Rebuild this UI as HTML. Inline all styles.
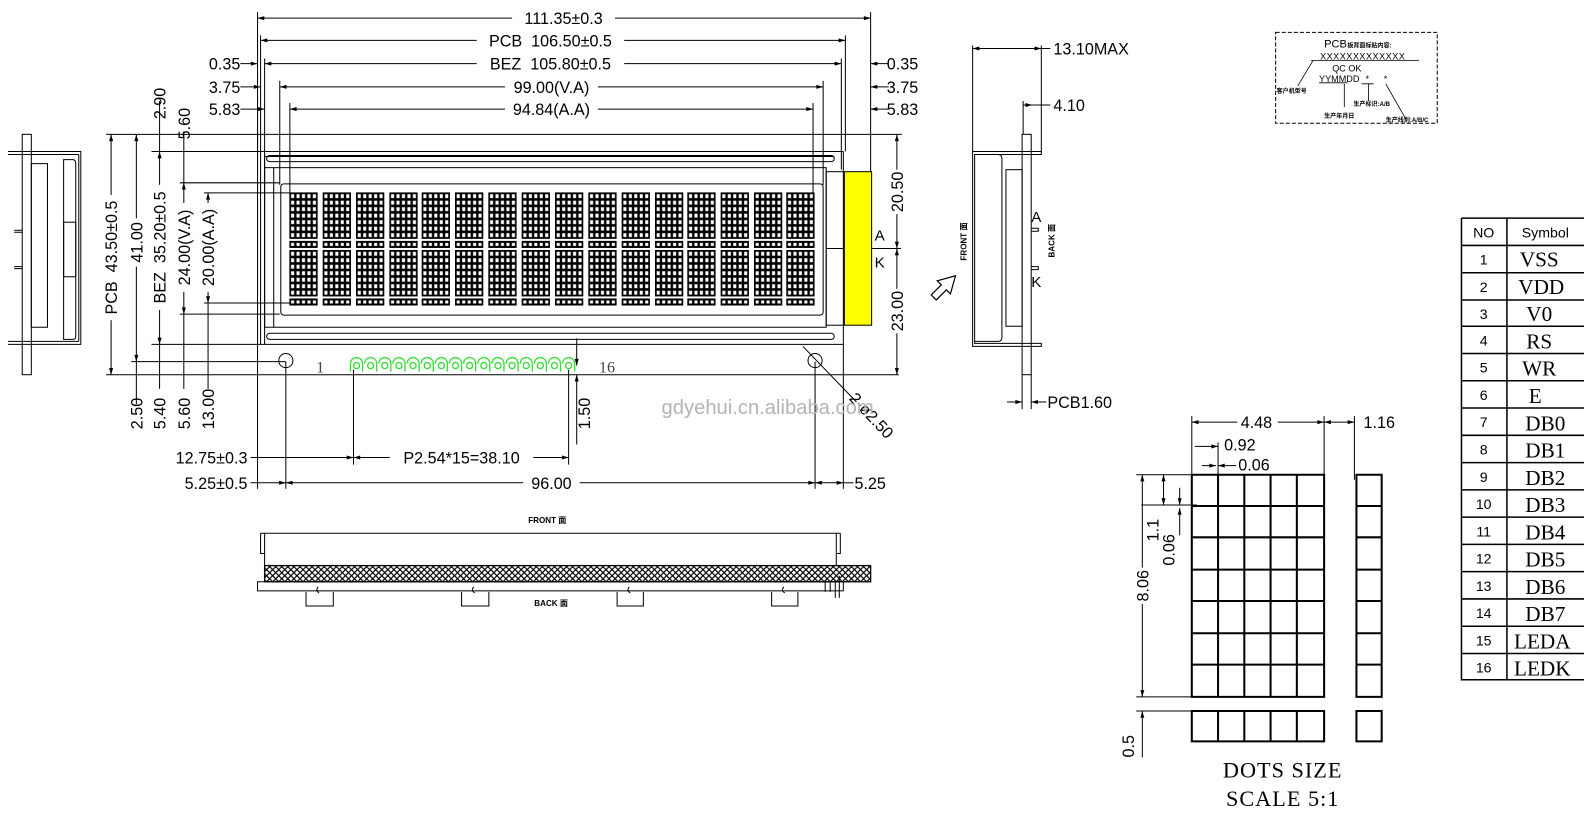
<!DOCTYPE html>
<html><head><meta charset="utf-8"><style>
html,body{margin:0;padding:0;background:#fff;}
svg{display:block;}
text{font-family:"Liberation Sans","Noto Sans CJK SC",sans-serif;fill:#000;}
.s{font-family:"Liberation Serif","Noto Serif CJK SC",serif;}
</style></head><body>
<svg width="1584" height="813" viewBox="0 0 1584 813" xmlns="http://www.w3.org/2000/svg">
<defs>
<marker id="a" viewBox="0 0 10 6" refX="10" refY="3" markerWidth="8" markerHeight="4" orient="auto-start-reverse"><path d="M0,0L10,3L0,6z" fill="#000"/></marker>
<pattern id="dot" viewBox="0 0 10 10" width=".2" height=".142857" preserveAspectRatio="none"><rect width="10" height="10" fill="#000"/><rect x="2.2" y="2" width="5.6" height="6" fill="#fff"/></pattern>
<pattern id="dot1" viewBox="0 0 10 10" width=".2" height="1" preserveAspectRatio="none"><rect width="10" height="10" fill="#000"/><rect x="2.2" y="2.5" width="5.6" height="5" fill="#fff"/></pattern>
<pattern id="hatch" width="6" height="6" patternUnits="userSpaceOnUse"><rect width="6" height="6" fill="#fff"/><path d="M0,0L6,6M6,0L0,6" stroke="#000" stroke-width="1.2"/></pattern>
<symbol id="ch" viewBox="0 0 27 54" width="27" height="54" overflow="visible">
<rect x="0" y="0" width="27" height="45" fill="url(#dot)"/>
<rect x="0" y="48" width="27" height="6" fill="url(#dot1)"/>
</symbol>
</defs>
<g transform="scale(1.01)" stroke="#000" stroke-width="1" fill="none">

<g stroke-width="1">
<line x1="255" y1="12" x2="255" y2="150"/><line x1="862" y1="12" x2="862" y2="170"/>
<line x1="258" y1="35" x2="258" y2="150"/><line x1="837" y1="35" x2="837" y2="150"/>
<line x1="262" y1="58" x2="262" y2="168"/><line x1="833" y1="58" x2="833" y2="168"/>
<line x1="277" y1="80" x2="277" y2="183"/><line x1="815" y1="80" x2="815" y2="183"/>
<line x1="287" y1="102" x2="287" y2="193"/><line x1="805" y1="102" x2="805" y2="193"/>
<line x1="255" y1="18" x2="862" y2="18" marker-start="url(#a)" marker-end="url(#a)"/>
<line x1="258" y1="40" x2="837" y2="40" marker-start="url(#a)" marker-end="url(#a)"/>
<line x1="262" y1="63" x2="833" y2="63" marker-start="url(#a)" marker-end="url(#a)"/>
<line x1="277" y1="86" x2="815" y2="86" marker-start="url(#a)" marker-end="url(#a)"/>
<line x1="287" y1="108" x2="805" y2="108" marker-start="url(#a)" marker-end="url(#a)"/>
<line x1="238" y1="63" x2="255" y2="63" marker-end="url(#a)"/><line x1="880" y1="63" x2="862" y2="63" marker-end="url(#a)"/>
<line x1="238" y1="86" x2="258" y2="86" marker-end="url(#a)"/><line x1="880" y1="86" x2="862" y2="86" marker-end="url(#a)"/>
<line x1="238" y1="108" x2="262" y2="108" marker-end="url(#a)"/><line x1="880" y1="108" x2="862" y2="108" marker-end="url(#a)"/>
</g>
<g stroke="none" font-size="16">
<rect x="507" y="9" width="102" height="18" fill="#fff"/><text x="558" y="24" text-anchor="middle">111.35±0.3</text>
<rect x="472" y="31" width="146" height="18" fill="#fff"/><text x="545" y="46" text-anchor="middle" xml:space="preserve">PCB  106.50±0.5</text>
<rect x="472" y="54" width="146" height="18" fill="#fff"/><text x="545" y="69" text-anchor="middle" xml:space="preserve">BEZ  105.80±0.5</text>
<rect x="500" y="77" width="92" height="18" fill="#fff"/><text x="546" y="92" text-anchor="middle">99.00(V.A)</text>
<rect x="500" y="99" width="92" height="18" fill="#fff"/><text x="546" y="114" text-anchor="middle">94.84(A.A)</text>
<text x="238" y="69" text-anchor="end">0.35</text><text x="238" y="92" text-anchor="end">3.75</text><text x="238" y="114" text-anchor="end">5.83</text>
<text x="878" y="69">0.35</text><text x="878" y="92">3.75</text><text x="878" y="114">5.83</text>
</g>

<g>
<line x1="105" y1="133" x2="255" y2="133"/>
<line x1="150" y1="150" x2="258" y2="150"/>
<line x1="178" y1="181" x2="277" y2="181"/>
<line x1="202" y1="191" x2="287" y2="191"/>
<line x1="202" y1="300" x2="287" y2="300"/>
<line x1="178" y1="311" x2="277" y2="311"/>
<line x1="150" y1="341" x2="258" y2="341"/>
<line x1="130" y1="358" x2="283" y2="358"/>
<line x1="105" y1="371" x2="890" y2="371"/>
<line x1="110" y1="133" x2="110" y2="371" marker-start="url(#a)" marker-end="url(#a)"/>
<line x1="135" y1="133" x2="135" y2="358" marker-start="url(#a)" marker-end="url(#a)"/>
<line x1="135" y1="358" x2="135" y2="400"/>
<line x1="158" y1="150" x2="158" y2="341" marker-start="url(#a)" marker-end="url(#a)"/>
<line x1="158" y1="100" x2="158" y2="150"/><line x1="158" y1="341" x2="158" y2="385"/>
<line x1="182" y1="181" x2="182" y2="311" marker-start="url(#a)" marker-end="url(#a)"/>
<line x1="182" y1="130" x2="182" y2="181"/><line x1="182" y1="311" x2="182" y2="385"/>
<line x1="206" y1="191" x2="206" y2="300" marker-start="url(#a)" marker-end="url(#a)"/>
<line x1="206" y1="300" x2="206" y2="385"/>
</g>
<g stroke="none" font-size="16">
<g transform="translate(116,255) rotate(-90)"><rect x="-62" y="-14" width="124" height="18" fill="#fff"/><text text-anchor="middle" xml:space="preserve">PCB  43.50±0.5</text></g>
<g transform="translate(141,240) rotate(-90)"><rect x="-24" y="-14" width="48" height="18" fill="#fff"/><text text-anchor="middle">41.00</text></g>
<g transform="translate(164,245) rotate(-90)"><rect x="-62" y="-14" width="124" height="18" fill="#fff"/><text text-anchor="middle" xml:space="preserve">BEZ  35.20±0.5</text></g>
<g transform="translate(188,245) rotate(-90)"><rect x="-44" y="-14" width="88" height="18" fill="#fff"/><text text-anchor="middle">24.00(V.A)</text></g>
<g transform="translate(212,245) rotate(-90)"><rect x="-44" y="-14" width="88" height="18" fill="#fff"/><text text-anchor="middle">20.00(A.A)</text></g>
<text transform="translate(164,118) rotate(-90)">2.90</text>
<text transform="translate(188,138) rotate(-90)">5.60</text>
<text transform="translate(141,425) rotate(-90)">2.50</text>
<text transform="translate(164,425) rotate(-90)">5.40</text>
<text transform="translate(188,425) rotate(-90)">5.60</text>
<text transform="translate(212,425) rotate(-90)">13.00</text>
</g>

<rect x="22" y="133" width="9" height="238"/>
<path d="M8,150H80V341H8M8,153H78M8,338H78"/>
<rect x="31" y="162" width="16" height="162"/>
<path d="M78,153V338M63,158H72Q75,158 75,162V333Q75,336 72,336H63z"/>
<rect x="63" y="220" width="12" height="54"/>
<path d="M14,228H22M14,230H22M14,264H22M14,266H22"/>

<path d="M255,133H862M255,133V371"/>
<path d="M258,150V341M835,150V341M258,150H835M258,341H835"/>
<path d="M262,155H826M262,341V153"/>
<rect x="264" y="154" width="562" height="6" rx="3"/>
<rect x="264" y="330" width="562" height="6" rx="3"/>
<rect x="262" y="166" width="556" height="158"/>
<line x1="271" y1="166" x2="271" y2="324"/>
<rect x="278" y="182" width="537" height="130" rx="3"/>
<rect x="818" y="170" width="18" height="152"/>
<rect x="836" y="170" width="27" height="152" fill="#ffff00"/>
<line x1="818" y1="246" x2="835" y2="246"/>
<line x1="863" y1="246" x2="892" y2="246"/>
<g id="row">
<use href="#ch" x="287" y="191"/><use href="#ch" x="320" y="191"/><use href="#ch" x="353" y="191"/><use href="#ch" x="386" y="191"/>
<use href="#ch" x="418" y="191"/><use href="#ch" x="451" y="191"/><use href="#ch" x="484" y="191"/><use href="#ch" x="517" y="191"/>
<use href="#ch" x="550" y="191"/><use href="#ch" x="583" y="191"/><use href="#ch" x="616" y="191"/><use href="#ch" x="649" y="191"/>
<use href="#ch" x="681" y="191"/><use href="#ch" x="714" y="191"/><use href="#ch" x="747" y="191"/><use href="#ch" x="779" y="191"/>
</g>
<use href="#row" y="57"/>

<circle cx="283" cy="357" r="7"/><circle cx="807" cy="357" r="7"/>
<g stroke="#33dd33" stroke-width="1.3">
<path d="M347,368V360A6,6 0 0 1 359,360V368M361,360A6,6 0 0 1 373,360V368M375,360A6,6 0 0 1 387,360V368M389,360A6,6 0 0 1 401,360V368M403,360A6,6 0 0 1 415,360V368M417,360A6,6 0 0 1 429,360V368M431,360A6,6 0 0 1 443,360V368M445,360A6,6 0 0 1 457,360V368M459,360A6,6 0 0 1 471,360V368M473,360A6,6 0 0 1 485,360V368M487,360A6,6 0 0 1 499,360V368M501,360A6,6 0 0 1 513,360V368M515,360A6,6 0 0 1 527,360V368M529,360A6,6 0 0 1 541,360V368M543,360A6,6 0 0 1 555,360V368M557,360A6,6 0 0 1 569,360V368"/>
<circle cx="353" cy="362" r="3"/><circle cx="367" cy="362" r="3"/><circle cx="381" cy="362" r="3"/><circle cx="395" cy="362" r="3"/><circle cx="409" cy="362" r="3"/><circle cx="423" cy="362" r="3"/><circle cx="437" cy="362" r="3"/><circle cx="451" cy="362" r="3"/><circle cx="465" cy="362" r="3"/><circle cx="479" cy="362" r="3"/><circle cx="493" cy="362" r="3"/><circle cx="507" cy="362" r="3"/><circle cx="521" cy="362" r="3"/><circle cx="535" cy="362" r="3"/><circle cx="549" cy="362" r="3"/><circle cx="563" cy="362" r="3"/>
</g>
<g stroke="none">
<text class="s" x="313" y="369" font-size="16" style="fill:#444">1</text>
<text class="s" x="593" y="369" font-size="16" style="fill:#444">16</text>
<text x="866" y="238" font-size="15">A</text>
<text x="866" y="265" font-size="15">K</text>
</g>

<line x1="862" y1="133" x2="893" y2="133"/>
<line x1="888" y1="133" x2="888" y2="246" marker-start="url(#a)" marker-end="url(#a)"/>
<line x1="888" y1="246" x2="888" y2="371" marker-start="url(#a)" marker-end="url(#a)"/>
<g stroke="none" font-size="16">
<g transform="translate(894,190) rotate(-90)"><rect x="-22" y="-14" width="44" height="18" fill="#fff"/><text text-anchor="middle">20.50</text></g>
<g transform="translate(894,308) rotate(-90)"><rect x="-22" y="-14" width="44" height="18" fill="#fff"/><text text-anchor="middle">23.00</text></g>
</g>

<line x1="283" y1="358" x2="283" y2="484"/>
<line x1="350" y1="366" x2="350" y2="460"/>
<line x1="563" y1="366" x2="563" y2="460"/>
<line x1="807" y1="358" x2="807" y2="484"/>
<line x1="835" y1="341" x2="835" y2="484"/>
<line x1="255" y1="371" x2="255" y2="484"/>
<line x1="571" y1="371" x2="571" y2="440" marker-start="url(#a)"/>
<line x1="571" y1="335" x2="571" y2="362" marker-end="url(#a)"/>
<line x1="248" y1="453" x2="350" y2="453" marker-end="url(#a)"/>
<line x1="350" y1="453" x2="563" y2="453" marker-start="url(#a)" marker-end="url(#a)"/>
<line x1="248" y1="478" x2="283" y2="478" marker-end="url(#a)"/>
<line x1="283" y1="478" x2="807" y2="478" marker-start="url(#a)" marker-end="url(#a)"/>
<line x1="807" y1="478" x2="835" y2="478" marker-start="url(#a)" marker-end="url(#a)"/>
<line x1="835" y1="478" x2="845" y2="478"/>
<line x1="795" y1="343" x2="848" y2="398"/>
<g stroke="none" font-size="16">
<text x="245" y="459" text-anchor="end">12.75±0.3</text>
<rect x="386" y="444" width="142" height="18" fill="#fff"/><text x="457" y="459" text-anchor="middle">P2.54*15=38.10</text>
<text x="245" y="484" text-anchor="end">5.25±0.5</text>
<rect x="518" y="469" width="56" height="18" fill="#fff"/><text x="546" y="484" text-anchor="middle">96.00</text>
<text x="846" y="484">5.25</text>
<text transform="translate(584,425) rotate(-90)">1.50</text>
<text transform="translate(840,395) rotate(47)">2-ø2.50</text>
<text x="655" y="410" font-size="20" style="fill:#b4b4b4">gdyehui.cn.alibaba.com</text>
</g>

<path d="M258,528H832M262,528V560M828,528V560"/>
<path d="M258,528V548H262M832,528V548H828"/>
<rect x="262" y="560" width="600" height="16" fill="url(#hatch)" stroke-width="1.3"/>
<rect x="255" y="576" width="580" height="9"/>
<path d="M817,576V586M822,576V586M827,576V592M831,570V592"/>
<path d="M303,586V600H330V586M457,586V600H484V586M611,586V600H637V586M764,586V600H790V586"/>
<path d="M315,581Q312,585 316,587M469,581Q466,585 470,587M623,581Q620,585 624,587M776,581Q773,585 777,587"/>
<g stroke="none" font-size="8" font-weight="bold">
<text x="523" y="518">FRONT 面</text>
<text x="529" y="600">BACK 面</text>
</g>

<line x1="963" y1="45" x2="963" y2="150"/>
<line x1="1031" y1="45" x2="1031" y2="150"/>
<line x1="963" y1="48" x2="1031" y2="48" marker-start="url(#a)" marker-end="url(#a)"/>
<line x1="1031" y1="48" x2="1040" y2="48"/>
<line x1="1013" y1="100" x2="1013" y2="133"/>
<line x1="1013" y1="104" x2="1022" y2="104" marker-end="url(#a)"/>
<line x1="1022" y1="104" x2="1040" y2="104"/>
<rect x="1012" y="133" width="9" height="238"/>
<path d="M963,150H1031V153H965V340H1031V343H963z"/>
<path d="M965,153H988Q992,153 992,157V334Q992,338 988,338H965"/>
<rect x="996" y="168" width="16" height="155"/>
<path d="M1021,226H1028V229H1021M1021,264H1028V267H1021"/>
<line x1="1012" y1="371" x2="1012" y2="405"/><line x1="1021" y1="371" x2="1021" y2="405"/>
<line x1="997" y1="398" x2="1012" y2="398" marker-end="url(#a)"/>
<line x1="1036" y1="398" x2="1021" y2="398" marker-end="url(#a)"/>
<path d="M922,292L932,282L928,278L946,273L941,291L937,287L927,297z" stroke-width="1.2"/>
<g stroke="none" font-size="16">
<text x="1043" y="54">13.10MAX</text>
<text x="1043" y="110">4.10</text>
<text x="1037" y="404">PCB1.60</text>
<text x="1021" y="220" font-size="15">A</text>
<text x="1021" y="284" font-size="15">K</text>
<text transform="translate(957,258) rotate(-90)" font-size="8" font-weight="bold">FRONT 面</text>
<text transform="translate(1044,255) rotate(-90)" font-size="8" font-weight="bold">BACK 面</text>
</g>

<rect x="1263" y="32" width="160" height="90" stroke-dasharray="4,2"/>
<g stroke="none">
<text x="1311" y="47" font-size="11">PCB</text>
<text x="1334" y="47" font-size="6" font-weight="bold">板背面标贴内容:</text>
<text x="1307" y="59" font-size="9" letter-spacing="0.5">XXXXXXXXXXXXX</text>
<text x="1319" y="71" font-size="9">QC  OK</text>
<text x="1306" y="81" font-size="9">YYMMDD</text>
<text x="1352" y="81" font-size="9">*</text><text x="1370" y="81" font-size="9">*</text>
<text x="1264" y="92" font-size="6" font-weight="bold">客户机型号</text>
<text x="1311" y="117" font-size="6" font-weight="bold">生产年月日</text>
<text x="1340" y="105" font-size="6" font-weight="bold">生产标识:A/B</text>
<text x="1372" y="121" font-size="6" font-weight="bold">生产线别:A/B/C</text>
</g>
<path d="M1298,60H1405M1300,60L1285,85M1306,82H1334M1331,83V106M1355,83V100M1348,83H1360M1372,83L1392,118" stroke-width="0.8"/>

<g>
<path d="M1180,475V412M1311,475V412M1341,475V412"/>
<line x1="1180" y1="418" x2="1311" y2="418" marker-start="url(#a)" marker-end="url(#a)"/>
<line x1="1311" y1="418" x2="1341" y2="418" marker-start="url(#a)" marker-end="url(#a)"/>
<line x1="1206" y1="438" x2="1206" y2="475"/>
<line x1="1183" y1="442" x2="1206" y2="442" marker-end="url(#a)"/>
<line x1="1190" y1="461" x2="1204" y2="461" marker-end="url(#a)"/>
<line x1="1224" y1="461" x2="1206" y2="461" marker-end="url(#a)"/>
<line x1="1125" y1="470" x2="1180" y2="470"/>
<line x1="1130" y1="500" x2="1185" y2="500"/>
<line x1="1125" y1="690" x2="1180" y2="690"/>
<line x1="1125" y1="704" x2="1180" y2="704"/>
<line x1="1131" y1="470" x2="1131" y2="690" marker-start="url(#a)" marker-end="url(#a)"/>
<line x1="1131" y1="704" x2="1131" y2="750" marker-start="url(#a)"/>
<line x1="1152" y1="470" x2="1152" y2="500" marker-start="url(#a)" marker-end="url(#a)"/>
<line x1="1168" y1="483" x2="1168" y2="500" marker-end="url(#a)"/>
<line x1="1168" y1="530" x2="1168" y2="503" marker-end="url(#a)"/>
</g>
<g stroke-width="2">
<path d="M1180,470h131v220h-131zM1206,470v220M1232,470v220M1258,470v220M1284,470v220M1180,501h131M1180,532h131M1180,564h131M1180,595h131M1180,627h131M1180,658h131"/>
<path d="M1343,470h25v220h-25zM1343,501h25M1343,532h25M1343,564h25M1343,595h25M1343,627h25M1343,658h25"/>
<path d="M1180,704h131v30h-131zM1206,704v30M1232,704v30M1258,704v30M1284,704v30M1343,704h25v30h-25z"/>
</g>
<g stroke="none" font-size="16">
<rect x="1225" y="410" width="40" height="16" fill="#fff"/><text x="1244" y="424" text-anchor="middle">4.48</text>
<text x="1350" y="424">1.16</text>
<text x="1212" y="446">0.92</text>
<text x="1226" y="466">0.06</text>
<g transform="translate(1137,580) rotate(-90)"><rect x="-18" y="-13" width="36" height="16" fill="#fff"/><text text-anchor="middle">8.06</text></g>
<text transform="translate(1147,536) rotate(-90)">1.1</text>
<text transform="translate(1163,560) rotate(-90)">0.06</text>
<text transform="translate(1123,750) rotate(-90)">0.5</text>
<text class="s" x="1270" y="770" text-anchor="middle" font-size="22" letter-spacing="1">DOTS SIZE</text>
<text class="s" x="1270" y="798" text-anchor="middle" font-size="22" letter-spacing="1">SCALE 5:1</text>
</g>

<g stroke-width="1.5">
<path d="M1447,216H1600M1447,216V673H1600M1492,216V673"/>
<path d="M1447,243H1600M1447,270H1600M1447,297H1600M1447,323H1600M1447,350H1600M1447,377H1600M1447,404H1600M1447,431H1600M1447,458H1600M1447,485H1600M1447,512H1600M1447,539H1600M1447,566H1600M1447,593H1600M1447,620H1600M1447,647H1600"/>
</g>
<g stroke="none" font-size="14" text-anchor="middle">
<text x="1469" y="235">NO</text><text x="1530" y="235">Symbol</text>
<text x="1469" y="262">1</text><text x="1469" y="289">2</text><text x="1469" y="316">3</text><text x="1469" y="342">4</text>
<text x="1469" y="369">5</text><text x="1469" y="396">6</text><text x="1469" y="423">7</text><text x="1469" y="450">8</text>
<text x="1469" y="477">9</text><text x="1469" y="504">10</text><text x="1469" y="531">11</text><text x="1469" y="558">12</text>
<text x="1469" y="585">13</text><text x="1469" y="612">14</text><text x="1469" y="639">15</text><text x="1469" y="666">16</text>
</g>
<g stroke="none" font-size="21" text-anchor="middle">
<text class="s" x="1524" y="264">VSS</text><text class="s" x="1526" y="291">VDD</text><text class="s" x="1524" y="318">V0</text><text class="s" x="1524" y="345">RS</text>
<text class="s" x="1524" y="372">WR</text><text class="s" x="1520" y="399">E</text><text class="s" x="1530" y="426">DB0</text><text class="s" x="1530" y="453">DB1</text>
<text class="s" x="1530" y="480">DB2</text><text class="s" x="1530" y="507">DB3</text><text class="s" x="1530" y="534">DB4</text><text class="s" x="1530" y="561">DB5</text>
<text class="s" x="1530" y="588">DB6</text><text class="s" x="1530" y="615">DB7</text><text class="s" x="1527" y="642">LEDA</text><text class="s" x="1527" y="669">LEDK</text>
</g>
</g>
</svg>
</body></html>
